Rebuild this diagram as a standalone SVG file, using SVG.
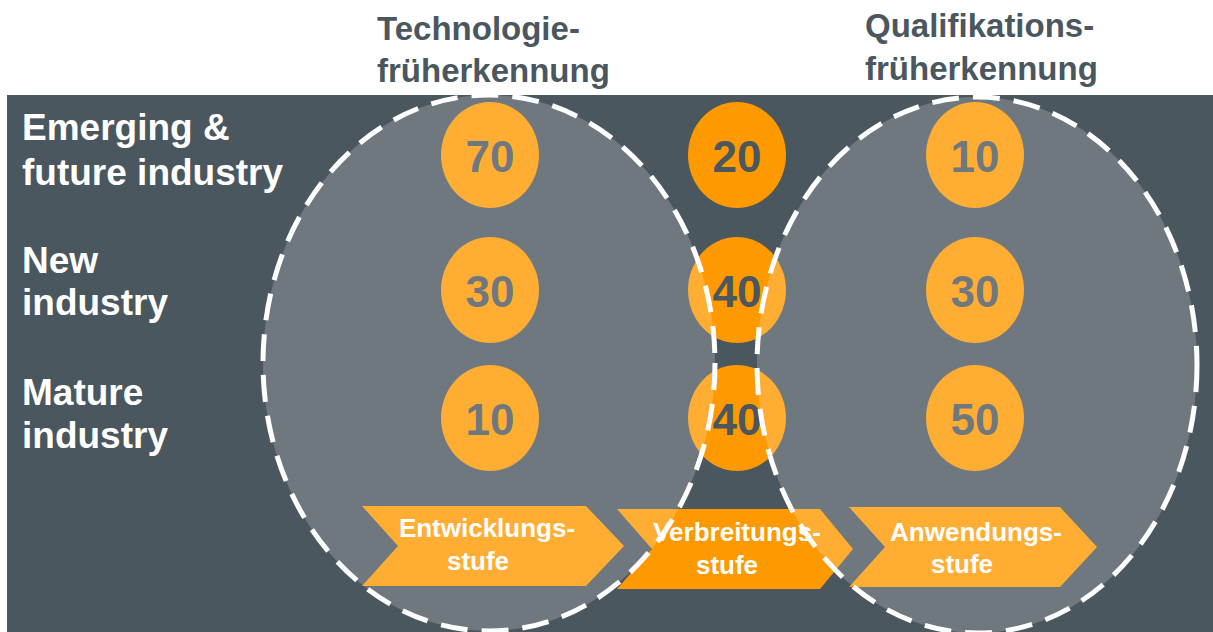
<svg xmlns="http://www.w3.org/2000/svg" width="1213" height="632" viewBox="0 0 1213 632">
<style>
.hdr{font-family:"Liberation Sans",Arial,sans-serif;font-weight:bold;font-size:33px;fill:#4b575f}
.lbl{font-family:"Liberation Sans",Arial,sans-serif;font-weight:bold;font-size:37px;fill:#ffffff}
.num{font-family:"Liberation Sans",Arial,sans-serif;font-weight:bold;font-size:44px;fill:#4b575f;text-anchor:middle}
.chv{font-family:"Liberation Sans",Arial,sans-serif;font-weight:bold;font-size:26px;fill:#ffffff;text-anchor:middle}
.dot{fill:#ff9900}
.arrow{fill:#ff9900}
.zone{fill:#ffffff;fill-opacity:0.2;stroke:#ffffff;stroke-width:5;stroke-dasharray:27 14}
</style>
<rect x="0" y="0" width="1213" height="632" fill="#ffffff"/>
<rect id="panel" x="7" y="95" width="1206" height="537" fill="#4b575f"/>

<g id="header-tech"><text class="hdr" x="377" y="40">Technologie-</text><text class="hdr" x="377" y="82">früherkennung</text></g>
<g id="header-qual"><text class="hdr" x="865" y="37">Qualifikations-</text><text class="hdr" x="865" y="80">früherkennung</text></g>

<g id="row-emerging"><text class="lbl" x="22" y="140">Emerging &amp;</text><text class="lbl" x="22" y="185">future industry</text></g>
<g id="row-new"><text class="lbl" x="22" y="273">New</text><text class="lbl" x="22" y="315">industry</text></g>
<g id="row-mature"><text class="lbl" x="22" y="405">Mature</text><text class="lbl" x="22" y="448">industry</text></g>

<g id="c-tech-emerging"><ellipse class="dot" cx="490" cy="155" rx="49" ry="53"/><text class="num" x="490" y="172">70</text></g>
<g id="c-tech-new"><ellipse class="dot" cx="490" cy="290" rx="49" ry="53"/><text class="num" x="490" y="307">30</text></g>
<g id="c-tech-mature"><ellipse class="dot" cx="490" cy="418" rx="49" ry="53"/><text class="num" x="490" y="435">10</text></g>
<g id="c-mid-emerging"><ellipse class="dot" cx="737" cy="155" rx="49" ry="53"/><text class="num" x="737" y="172">20</text></g>
<g id="c-mid-new"><ellipse class="dot" cx="737" cy="290" rx="49" ry="53"/><text class="num" x="737" y="307">40</text></g>
<g id="c-mid-mature"><ellipse class="dot" cx="737" cy="418" rx="49" ry="53"/><text class="num" x="737" y="435">40</text></g>
<g id="c-qual-emerging"><ellipse class="dot" cx="975" cy="155" rx="49" ry="53"/><text class="num" x="975" y="172">10</text></g>
<g id="c-qual-new"><ellipse class="dot" cx="975" cy="290" rx="49" ry="53"/><text class="num" x="975" y="307">30</text></g>
<g id="c-qual-mature"><ellipse class="dot" cx="975" cy="418" rx="49" ry="53"/><text class="num" x="975" y="435">50</text></g>

<g id="stage-entwicklung"><polygon class="arrow" points="362,506 586,506 624,546 586,586 362,586 398,546"/><text class="chv" x="487" y="537">Entwicklungs-</text><text class="chv" x="478" y="570">stufe</text></g>
<g id="stage-verbreitung"><polygon class="arrow" points="617,509 820,509 853,549 820,589 617,589 652,549"/><text class="chv" x="737" y="541">Verbreitungs-</text><text class="chv" x="727" y="574">stufe</text></g>
<g id="stage-anwendung"><polygon class="arrow" points="849,507 1060,507 1097,547 1060,587 849,587 885,547"/><text class="chv" x="976" y="541">Anwendungs-</text><text class="chv" x="962" y="573">stufe</text></g>

<g id="zone-tech"><ellipse class="zone" cx="489" cy="363" rx="226" ry="268"/></g>
<g id="zone-qual"><ellipse class="zone" cx="977" cy="365" rx="220" ry="268"/></g>
</svg>
